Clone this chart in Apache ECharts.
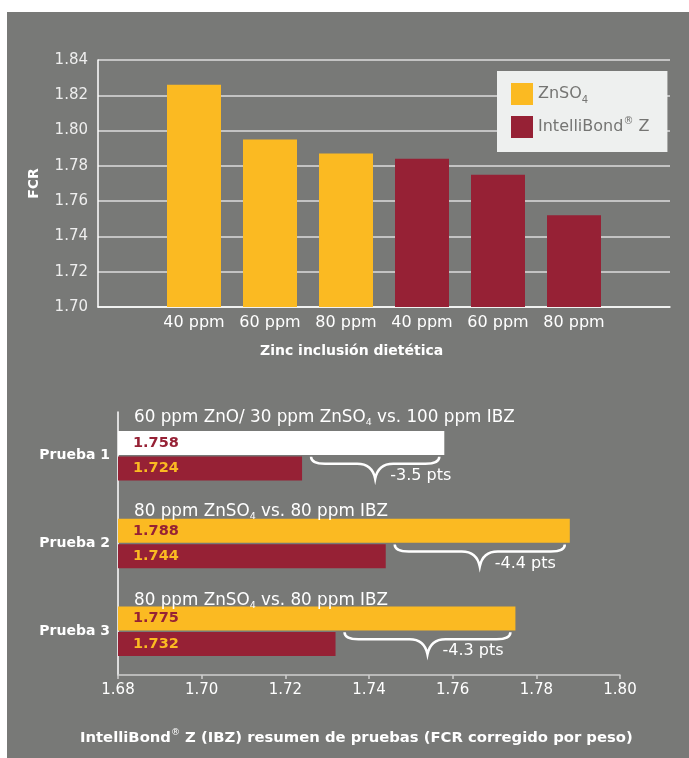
<!DOCTYPE html>
<html><head><meta charset="utf-8">
<script src="https://cdn.jsdelivr.net/npm/echarts@6/dist/echarts.min.js"></script>
<style>
html,body{margin:0;padding:0;background:#fff;}
#bg{position:absolute;left:7px;top:12px;width:682px;height:746px;background:#787977;}
#c{position:absolute;left:0;top:0;width:689px;height:758px;}
</style>
</head><body><div id="bg"></div><div id="c"></div>
<script>
// ---- top chart data ----
const doseLabels = ['40 ppm', '60 ppm', '80 ppm', '40 ppm', '60 ppm', '80 ppm'];
const znso4FCR = [1.826, 1.795, 1.787, null, null, null];
const ibzFCR = [null, null, null, 1.784, 1.775, 1.752];
const seriesNames = ['ZnSO₄', 'IntelliBond® Z'];
const topAxisName = 'Zinc inclusión dietética';
const topYName = 'FCR';

// ---- bottom chart data ----
const trials = ['Prueba 1', 'Prueba 2', 'Prueba 3'];
const trialTitles = [
  '60 ppm ZnO/ 30 ppm ZnSO₄ vs. 100 ppm IBZ',
  '80 ppm ZnSO₄ vs. 80 ppm IBZ',
  '80 ppm ZnSO₄ vs. 80 ppm IBZ'
];
const controlFCR = [1.758, 1.788, 1.775];
const ibzTrialFCR = [1.724, 1.744, 1.732];
const diffLabels = ['-3.5 pts', '-4.4 pts', '-4.3 pts'];
const bottomAxisName = 'IntelliBond® Z (IBZ) resumen de pruebas (FCR corregido por peso)';

const YELLOW = '#FBBA22', RED = '#962135', WHITE = '#ffffff';
const FONT = 'DejaVu Sans';

// convert ₄ / ® into rich text fragments
function toRich(s, base) {
  let out = '';
  let buf = '';
  for (const ch of s) {
    if (ch === '₄' || ch === '®') {
      if (buf) { out += '{' + base + '|' + buf + '}'; buf = ''; }
      out += (ch === '₄') ? '{' + base + 'Sub|4}' : '{' + base + 'Sup|®}';
    } else buf += ch;
  }
  if (buf) out += '{' + base + '|' + buf + '}';
  return out;
}

const rich = {
  leg: { fontFamily: FONT, fontSize: 16, color: '#757573', lineHeight: 22 },
  legSub: { fontFamily: FONT, fontSize: 10, color: '#757573', lineHeight: 10, verticalAlign: 'bottom' },
  legSup: { fontFamily: FONT, fontSize: 10, color: '#757573', lineHeight: 12, verticalAlign: 'top' },
  tt: { fontFamily: FONT, fontSize: 16.8, fontWeight: 'normal', color: WHITE, lineHeight: 20 },
  ttSub: { fontFamily: FONT, fontSize: 9.5, fontWeight: 'normal', color: WHITE, lineHeight: 9, verticalAlign: 'bottom' },
  ttSup: { fontFamily: FONT, fontSize: 9.5, fontWeight: 'normal', color: WHITE, lineHeight: 12, verticalAlign: 'top' },
  bt: { fontFamily: FONT, fontSize: 14.8, fontWeight: 'bold', color: WHITE, lineHeight: 20 },
  btSub: { fontFamily: FONT, fontSize: 9, fontWeight: 'bold', color: WHITE, lineHeight: 9, verticalAlign: 'bottom' },
  btSup: { fontFamily: FONT, fontSize: 9, fontWeight: 'normal', color: WHITE, lineHeight: 12, verticalAlign: 'top' }
};

const trialTitleTops = [408, 502, 591];

const titles = [
  { text: topAxisName, left: 260, top: 344, padding: 0,
    textStyle: { fontFamily: FONT, fontSize: 14, fontWeight: 'bold', color: WHITE } },
  { text: toRich(bottomAxisName, 'bt'), left: 80, top: 728, padding: 0,
    textStyle: { fontWeight: 'bold', rich: rich } }
].concat(trialTitles.map((t, i) => ({
  text: toRich(t, 'tt'), left: 134, top: trialTitleTops[i], padding: 0,
  textStyle: { fontWeight: 'normal', rich: rich }
})));

const chart = echarts.init(document.getElementById('c'));
chart.setOption({
  backgroundColor: 'transparent',
  animation: false,
  textStyle: { fontFamily: FONT },
  title: titles,
  legend: {
    orient: 'vertical', left: 497, top: 71,
    backgroundColor: '#eef0ef',
    padding: [12, 18, 14, 14],
    itemWidth: 22, itemHeight: 22, itemGap: 11, itemTextGap: 8,
    icon: 'rect',
    data: seriesNames,
    formatter: name => toRich(name, 'leg'),
    textStyle: { rich: rich }
  },
  grid: [
    { left: 98, top: 60, right: 19, bottom: 451 },
    { left: 156, top: 60, width: 456, bottom: 451 },
    { left: 118, top: 412, right: 69, bottom: 83 }
  ],
  xAxis: [
    { gridIndex: 0, type: 'value', min: 0, max: 1,
      axisLine: { show: true, lineStyle: { color: WHITE, width: 1.5 } },
      axisTick: { show: false }, axisLabel: { show: false }, splitLine: { show: false } },
    { gridIndex: 1, type: 'category', data: doseLabels,
      axisLine: { show: false }, axisTick: { show: false },
      axisLabel: { color: WHITE, fontSize: 16, margin: 8, fontFamily: FONT, interval: 0 } },
    { gridIndex: 2, type: 'value', min: 1.68, max: 1.80, interval: 0.02,
      axisLine: { show: true, lineStyle: { color: '#cfcfcf', width: 1.5 } },
      axisTick: { show: true, length: 4, lineStyle: { color: '#cfcfcf', width: 1.5 } },
      axisLabel: { color: WHITE, fontSize: 15, margin: 8, fontFamily: FONT,
        formatter: v => v.toFixed(2) },
      splitLine: { show: false } }
  ],
  yAxis: [
    { gridIndex: 0, type: 'value', min: 1.70, max: 1.84, interval: 0.02,
      name: topYName, nameLocation: 'middle', nameGap: 57,
      nameTextStyle: { color: WHITE, fontWeight: 'bold', fontSize: 14, fontFamily: FONT },
      axisLine: { show: true, lineStyle: { color: WHITE, width: 1.5 } },
      axisTick: { show: false },
      axisLabel: { color: '#eeeeee', fontSize: 15, margin: 10, fontFamily: FONT,
        formatter: v => v.toFixed(2) },
      splitLine: { show: true, lineStyle: { color: '#dcdcdc', width: 1.5 } } },
    { gridIndex: 1, type: 'value', min: 1.70, max: 1.84, show: false },
    { gridIndex: 2, type: 'category', data: trials, inverse: true,
      axisLine: { show: true, lineStyle: { color: WHITE, width: 1.5 } },
      axisTick: { show: false },
      axisLabel: { color: WHITE, fontSize: 14, fontWeight: 'bold', margin: 8, fontFamily: FONT } }
  ],
  series: [
    { name: seriesNames[0], type: 'bar', xAxisIndex: 1, yAxisIndex: 1,
      data: znso4FCR, barWidth: 54, barGap: '-100%', itemStyle: { color: YELLOW } },
    { name: seriesNames[1], type: 'bar', xAxisIndex: 1, yAxisIndex: 1,
      data: ibzFCR, barWidth: 54, barGap: '-100%', itemStyle: { color: RED } },
    { name: 'control', type: 'bar', xAxisIndex: 2, yAxisIndex: 2,
      data: controlFCR.map((v, i) => ({ value: v, itemStyle: { color: i === 0 ? WHITE : YELLOW } })),
      barWidth: 24, barGap: '6%',
      label: { show: true, position: 'insideLeft', distance: 15,
        formatter: p => p.value.toFixed(3),
        color: RED, fontWeight: 'bold', fontSize: 14.5, fontFamily: FONT } },
    { name: 'ibz', type: 'bar', xAxisIndex: 2, yAxisIndex: 2,
      data: ibzTrialFCR, barWidth: 24, barGap: '6%', itemStyle: { color: RED },
      label: { show: true, position: 'insideLeft', distance: 15,
        formatter: p => p.value.toFixed(3),
        color: YELLOW, fontWeight: 'bold', fontSize: 14.5, fontFamily: FONT } },
    { name: 'brace', type: 'custom', xAxisIndex: 2, yAxisIndex: 2,
      encode: { x: [0, 1], y: 2 },
      data: trials.map((t, i) => [ibzTrialFCR[i], controlFCR[i], i, diffLabels[i]]),
      renderItem: (params, api) => {
        const lo = api.value(0), hi = api.value(1), cat = api.value(2);
        const pLo = api.coord([lo, cat]);
        const pHi = api.coord([hi, cat]);
        const x0 = pLo[0] + 9, x1 = pHi[0] - 5;
        const y0 = pLo[1] + 1;
        const ym = y0 + 7, h = 22;
        const xm = (x0 + x1) / 2;
        const d = 'M' + x0 + ',' + y0 +
          ' Q' + x0 + ',' + ym + ' ' + (x0 + 14) + ',' + ym +
          ' L' + (xm - 18) + ',' + ym +
          ' Q' + (xm - 3) + ',' + ym + ' ' + xm + ',' + (y0 + h) +
          ' Q' + (xm + 3) + ',' + ym + ' ' + (xm + 18) + ',' + ym +
          ' L' + (x1 - 14) + ',' + ym +
          ' Q' + x1 + ',' + ym + ' ' + x1 + ',' + y0;
        return {
          type: 'group',
          children: [
            { type: 'path', shape: { pathData: d },
              style: { stroke: WHITE, fill: null, lineWidth: 2.5 } },
            { type: 'text', x: xm + 15, y: y0 + 19,
              style: { text: diffLabels[params.dataIndex], fill: WHITE, fontSize: 16,
                fontFamily: FONT, verticalAlign: 'middle', align: 'left' } }
          ]
        };
      }
    }
  ]
});
</script>
</body></html>
